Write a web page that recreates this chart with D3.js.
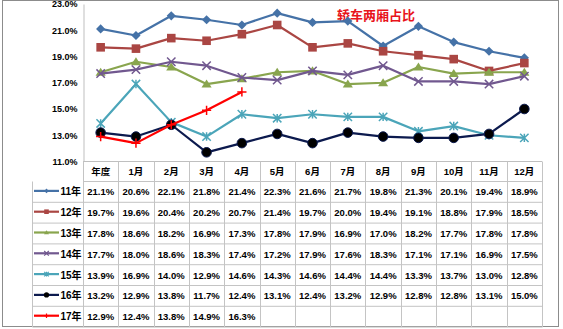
<!DOCTYPE html>
<html>
<head>
<meta charset="utf-8">
<script src="https://cdn.jsdelivr.net/npm/d3@7"></script>
<style>
  html, body { margin: 0; padding: 0; background: #fff; }
  svg { display: block; }
  text { font-family: "Liberation Sans", Arial, "Noto Sans CJK SC", sans-serif; font-weight: bold; fill: #000; }
</style>
</head>
<body>
<svg id="chart" width="563" height="329"></svg>
<script>
// Categories: the yearly figure followed by the twelve months
const categories = ["年度", "1月", "2月", "3月", "4月", "5月", "6月", "7月", "8月", "9月", "10月", "11月", "12月"];
const seriesNames = ["11年", "12年", "13年", "14年", "15年", "16年", "17年"];
const values11 = [21.1, 20.6, 22.1, 21.8, 21.4, 22.3, 21.6, 21.7, 19.8, 21.3, 20.1, 19.4, 18.9];
const values12 = [19.7, 19.6, 20.4, 20.2, 20.7, 21.4, 19.7, 20.0, 19.4, 19.1, 18.8, 17.9, 18.5];
const values13 = [17.8, 18.6, 18.2, 16.9, 17.3, 17.8, 17.9, 16.9, 17.0, 18.2, 17.7, 17.8, 17.8];
const values14 = [17.7, 18.0, 18.6, 18.3, 17.4, 17.2, 17.9, 17.6, 18.3, 17.1, 17.1, 16.9, 17.5];
const values15 = [13.9, 16.9, 14.0, 12.9, 14.6, 14.3, 14.6, 14.4, 14.4, 13.3, 13.7, 13.0, 12.8];
const values16 = [13.2, 12.9, 13.8, 11.7, 12.4, 13.1, 12.4, 13.2, 12.9, 12.8, 12.8, 13.1, 15.0];
const values17 = [12.9, 12.4, 13.8, 14.9, 16.3];
const yTicks = [11, 13, 15, 17, 19, 21, 23];
const title = "轿车两厢占比";

const colors = ["#4572A7", "#AA4643", "#89A54E", "#71588F", "#4BA5B9", "#0C1A4E", "#FF0000"];
const markers = ["diamond", "square", "triangle", "x", "asterisk", "circle", "plus"];
const allValues = [values11, values12, values13, values14, values15, values16, values17];

const svg = d3.select("#chart");

// outer frame
svg.append("rect").attr("x", 2.5).attr("y", 0.5).attr("width", 556).attr("height", 326)
  .attr("fill", "#fff").attr("stroke", "#8c8c8c");

const plotLeft = 83, plotRight = 542, plotTop = 4, plotBottom = 161.5;
const x = d3.scaleBand().domain(categories).range([plotLeft, plotRight]);
const y = d3.scaleLinear().domain([11, 23]).range([plotBottom, plotTop]);

// y axis
const yAxis = svg.append("g").attr("transform", `translate(${plotLeft + 0.5},0)`)
  .call(d3.axisLeft(y).tickValues(yTicks).tickSize(0).tickPadding(6).tickFormat(d => d3.format(".1f")(d) + "%"));
yAxis.select(".domain").attr("stroke", "#bfbfbf");
yAxis.selectAll("text").attr("font-size", 9).attr("font-weight", "bold")
  .attr("font-family", "'Liberation Sans', Arial, sans-serif");

// x axis baseline
svg.append("line").attr("x1", plotLeft).attr("x2", plotRight).attr("y1", plotBottom).attr("y2", plotBottom)
  .attr("stroke", "#bfbfbf");

// title
svg.append("text").attr("x", 337).attr("y", 20).attr("font-size", 13)
  .attr("font-family", "'Noto Sans CJK SC', sans-serif").attr("font-weight", "bold")
  .style("fill", "#E8141B").text(title);

function markerPath(kind, s) {
  switch (kind) {
    case "diamond": return `M0,${-s}L${s},0L0,${s}L${-s},0Z`;
    case "square": return `M${-s},${-s}H${s}V${s}H${-s}Z`;
    case "triangle": return `M0,${-s}L${s * 1.1},${s * 0.75}H${-s * 1.1}Z`;
    case "circle": return d3.symbol(d3.symbolCircle, Math.PI * s * s)();
    case "x": return `M${-s},${-s}L${s},${s}M${-s},${s}L${s},${-s}`;
    case "asterisk": return `M${-s},${-s}L${s},${s}M${-s},${s}L${s},${-s}M0,${-s}V${s}`;
    case "plus": return `M${-s},0H${s}M0,${-s}V${s}`;
  }
}
const strokeMarkers = new Set(["x", "asterisk", "plus"]);
const markerSize = { diamond: 4.6, square: 4.3, triangle: 4.6, x: 4.2, asterisk: 4.2, circle: 4.8, plus: 4.6 };

const line = d3.line().x((d, i) => x(categories[i]) + x.bandwidth() / 2).y(d => y(d));

allValues.forEach((vals, si) => {
  const g = svg.append("g");
  g.append("path").datum(vals).attr("d", line).attr("fill", "none")
    .attr("stroke", colors[si]).attr("stroke-width", 2.2).attr("stroke-linejoin", "round");
  const kind = markers[si];
  const fillCol = kind === "circle" ? "#000" : colors[si];
  g.selectAll("path.m").data(vals).join("path").attr("class", "m")
    .attr("transform", (d, i) => `translate(${x(categories[i]) + x.bandwidth() / 2},${y(d)})`)
    .attr("d", markerPath(kind, markerSize[kind]))
    .attr("fill", strokeMarkers.has(kind) ? "none" : fillCol)
    .attr("stroke", strokeMarkers.has(kind) ? colors[si] : (kind === "circle" ? "#0C1A4E" : "none"))
    .attr("stroke-width", strokeMarkers.has(kind) ? 1.5 : 1);
});

// data table
const tableTop = 161.5, headerH = 20, rowH = 20.8, legendLeft = 32.5;
const grid = svg.append("g").attr("stroke", "#c4c4c4").attr("stroke-width", 1);
// header row
grid.append("line").attr("x1", plotLeft + 0.5).attr("x2", plotRight).attr("y1", tableTop + headerH).attr("y2", tableTop + headerH);
categories.forEach((c, i) => {
  grid.append("line").attr("x1", Math.round(x(c)) + 0.5).attr("x2", Math.round(x(c)) + 0.5)
    .attr("y1", tableTop).attr("y2", tableTop + headerH + rowH * seriesNames.length);
});
grid.append("line").attr("x1", plotRight + 0.5).attr("x2", plotRight + 0.5)
  .attr("y1", tableTop).attr("y2", tableTop + headerH + rowH * seriesNames.length);
grid.append("line").attr("x1", legendLeft).attr("x2", legendLeft)
  .attr("y1", tableTop + headerH).attr("y2", tableTop + headerH + rowH * seriesNames.length);
seriesNames.forEach((n, si) => {
  const yy = tableTop + headerH + rowH * (si + 1);
  grid.append("line").attr("x1", legendLeft).attr("x2", plotRight + 0.5).attr("y1", yy).attr("y2", yy);
});

// header labels
svg.append("g").selectAll("text").data(categories).join("text")
  .attr("x", d => x(d) + x.bandwidth() / 2).attr("y", tableTop + headerH / 2 + 3.5)
  .attr("text-anchor", "middle").attr("font-size", 9.5).text(d => d);

// rows: legend key + values
seriesNames.forEach((n, si) => {
  const cy = tableTop + headerH + rowH * si + rowH / 2;
  const g = svg.append("g");
  g.append("line").attr("x1", 34).attr("x2", 59).attr("y1", cy - 1).attr("y2", cy - 1)
    .attr("stroke", colors[si]).attr("stroke-width", 2.2);
  const kind = markers[si];
  g.append("path").attr("transform", `translate(46.5,${cy - 1})`)
    .attr("d", markerPath(kind, kind === "circle" ? 2.6 : 2.3))
    .attr("fill", strokeMarkers.has(kind) ? "none" : (kind === "circle" ? "#000" : colors[si]))
    .attr("stroke", strokeMarkers.has(kind) ? colors[si] : "none").attr("stroke-width", 1.2);
  g.append("text").attr("x", 60.5).attr("y", cy + 3.5).attr("font-size", 10).text(n);
  g.selectAll("text.v").data(allValues[si]).join("text").attr("class", "v")
    .attr("x", (d, i) => x(categories[i]) + x.bandwidth() / 2).attr("y", cy + 3.5)
    .attr("text-anchor", "middle").attr("font-size", 9.5)
    .text(d => d3.format(".1f")(d) + "%");
});
</script>
</body>
</html>
